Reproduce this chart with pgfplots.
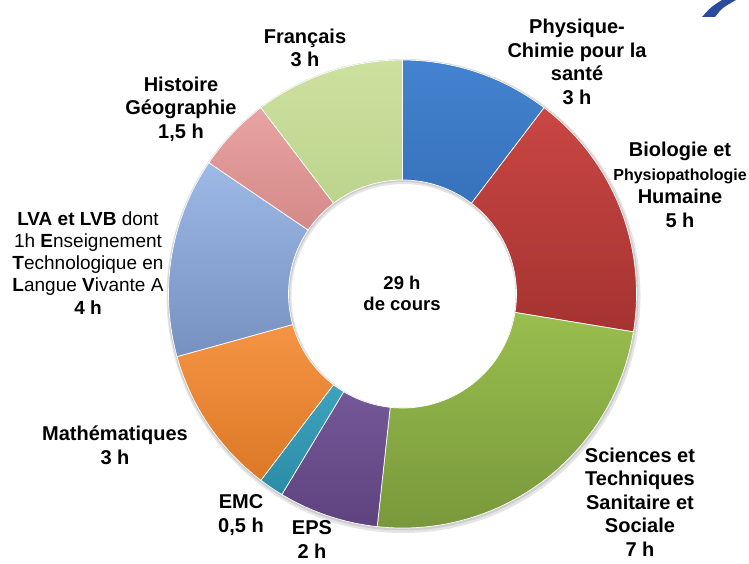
\documentclass[border=0pt]{standalone}
\usepackage{pgfplots}
\pgfplotsset{compat=1.18}
\usepackage{pgfplotstable}
\usepackage{fontspec}
\setmainfont{Liberation Sans}

\definecolor{c0t}{HTML}{4483D0}\definecolor{c0b}{HTML}{2E66AE}
\definecolor{c1t}{HTML}{C94643}\definecolor{c1b}{HTML}{A53331}
\definecolor{c2t}{HTML}{9CC150}\definecolor{c2b}{HTML}{77963A}
\definecolor{c3t}{HTML}{8566AA}\definecolor{c3b}{HTML}{5E437F}
\definecolor{c4t}{HTML}{4FB5D0}\definecolor{c4b}{HTML}{2B8CA6}
\definecolor{c5t}{HTML}{F99A4A}\definecolor{c5b}{HTML}{DC7826}
\definecolor{c6t}{HTML}{9DB9E6}\definecolor{c6b}{HTML}{7690C0}
\definecolor{c7t}{HTML}{E8A3A2}\definecolor{c7b}{HTML}{C97C7B}
\definecolor{c8t}{HTML}{CCE19E}\definecolor{c8b}{HTML}{B2CB84}
\definecolor{logo}{HTML}{2A4A9C}

% hours per subject, clockwise from 12 o'clock
\pgfplotstableread{
val name
3   Physique
5   Biologie
7   STSS
2   EPS
0.5 EMC
3   Maths
4   LVA
1.5 Histoire
3   Francais
}\hours

\begin{document}
\begin{tikzpicture}[
  lab/.style={font=\bfseries\fontsize{20}{23.5}\selectfont, align=center, inner sep=0pt, anchor=north}]
\begin{axis}[width=749pt, height=563pt, scale only axis,
  xmin=0, xmax=749, ymin=0, ymax=563, hide axis, clip=false]
\pgfplotsextra{%
  \fill[black, opacity=0.10, even odd rule] (axis cs:403.5,267) circle[radius=237pt] (axis cs:403.5,267) circle[radius=112pt];
  \fill[black, opacity=0.10, even odd rule] (axis cs:403,268) circle[radius=235.5pt] (axis cs:403,268) circle[radius=113pt];
  \pgfplotstablegetrowsof{\hours}%
  \pgfmathtruncatemacro\N{\pgfplotsretval-1}%
  \def\tot{0}%
  \pgfplotsforeachungrouped \i in {0,...,\N}{%
    \pgfplotstablegetelem{\i}{val}\of\hours
    \pgfmathsetmacro\tot{\tot+\pgfplotsretval}}%
  \def\cum{0}%
  \pgfplotsforeachungrouped \i in {0,...,\N}{%
    \pgfplotstablegetelem{\i}{val}\of\hours
    \let\sliceval\pgfplotsretval
    \pgfmathsetmacro\sa{90-360*\cum/\tot}%
    \pgfmathsetmacro\sb{90-360*(\cum+\sliceval)/\tot}%
    \shadedraw[top color=c\i t, bottom color=c\i b, draw=white, line width=0.7pt]
      (axis cs:402.5,269) ++(\sa:234pt) arc[start angle=\sa, end angle=\sb, radius=234pt]
      -- ++(\sb:-120pt) arc[start angle=\sb, end angle=\sa, radius=114pt] -- cycle;
    \pgfmathsetmacro\cum{\cum+\sliceval}%
  }%
  \fill[logo] (axis cs:702,546) -- (axis cs:715,546) .. controls (axis cs:722,555) .. (axis cs:736,563) -- (axis cs:722,563) .. controls (axis cs:711,556) .. cycle;
}
\node[lab] at (axis cs:577,544) {Physique-\\Chimie pour la\\santé\\3 h};
\node[lab] at (axis cs:680,420.7) {Biologie et\\{\fontsize{16}{23}\selectfont Physiopathologie}\\Humaine\\5 h};
\node[lab] at (axis cs:640,115.3) {Sciences et\\Techniques\\Sanitaire et\\Sociale\\7 h};
\node[lab] at (axis cs:312,42.3) {EPS\\2 h};
\node[lab] at (axis cs:241,68.3) {EMC\\0,5 h};
\node[lab] at (axis cs:115,137.3) {Mathématiques\\3 h};
\node[lab, font=\fontsize{19}{22.2}\selectfont] at (axis cs:88,351.6)
  {\textbf{LVA et LVB} dont\\1h \textbf{E}nseignement\\\textbf{T}echnologique en\\\textbf{L}angue \textbf{V}ivante A\\\textbf{4 h}};
\node[lab] at (axis cs:181,486.3) {Histoire\\Géographie\\1,5 h};
\node[lab] at (axis cs:305,534.3) {Français\\3 h};
\node[lab, font=\bfseries\fontsize{18.5}{21.5}\selectfont] at (axis cs:402,287.2) {29 h\\de cours};
\end{axis}
\pgfresetboundingbox
\path (current axis.south west) rectangle (current axis.north east);
\end{tikzpicture}
\end{document}
